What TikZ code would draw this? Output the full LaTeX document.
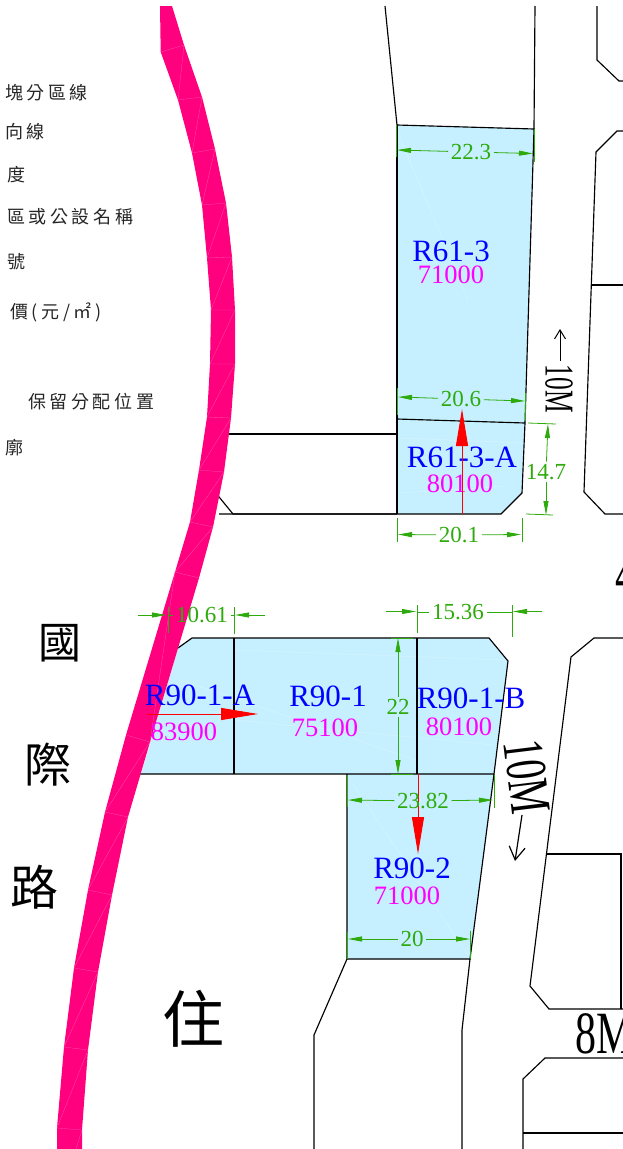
\documentclass[tikz,border=0pt]{standalone}
\usepackage{fontspec}
\setmainfont{Liberation Serif}
\newfontfamily\cjk{Noto Sans CJK TC}
\newfontfamily\cjkspaced[LetterSpace=20]{Noto Sans CJK TC}
\usetikzlibrary{arrows.meta}
\definecolor{parcel}{HTML}{C6F0FF}
\definecolor{hair}{HTML}{D8F6FF}
\definecolor{road}{HTML}{FF007F}
\definecolor{roadhair}{HTML}{FF4FA6}
\definecolor{dimgreen}{HTML}{2EAA0C}
\definecolor{pricecol}{HTML}{FF00FF}
\definecolor{namecol}{HTML}{0000FF}
\definecolor{arrowred}{HTML}{FF0000}
\newcommand{\fsz}[1]{\fontsize{#1}{#1}\selectfont}
\tikzset{
  x=1pt,y=-1pt,
  outline/.style={draw=black,line width=1.15pt,line join=miter},
  roadline/.style={draw=roadhair,line width=.3pt},
  tick/.style={draw=dimgreen,line width=.8pt},
  dimarrow/.style={draw=dimgreen,line width=.8pt,-{Triangle[length=14pt,width=5pt,fill=dimgreen]}},
  dimlabel/.style={text=dimgreen,font=\fsz{23},inner sep=2.5pt},
  parcelname/.style={text=namecol,font=\fsz{31},inner sep=0pt},
  price/.style={text=pricecol,font=\fsz{26.5},inner sep=0pt},
  redarrow/.style={draw=arrowred,line width=1pt,-{Triangle[length=37pt,width=12pt,fill=arrowred]}},
  legendtext/.style={anchor=west,font=\cjkspaced\fsz{18},inner sep=0pt,text=black!85},
  bigchar/.style={font=\cjk\fsz{#1},inner sep=0pt},
  blacktext/.style={font=\fsz{#1},inner sep=0pt},
}
\begin{document}
\begin{tikzpicture}
\useasboundingbox (0,0) rectangle (623,1149);
% parcels
\fill[parcel] (397,125)--(534,129)--(525,423)--(522,493)--(501,514)--(397,514)--cycle;
\fill[parcel] (192,638)--(489,638)--(508,661)--(494,774)--(141,774)--(178,648)--cycle;
\fill[parcel] (347,774)--(494,774)--(470,959)--(347,959)--cycle;
\draw[draw=hair,line width=.4pt] (398,133)--(468,300) (400,438)--(524,443) (400,493)--(508,486) (180,680)--(416,760) (235,650)--(505,660) (235,720)--(494,745) (350,780)--(468,955);
% road and block outlines
\draw[outline] (385,6)--(397,125)--(534,129)--(525,423)--(522,493)--(501,514)--(219,514);
\draw[outline] (535,6)--(534,129);
\draw[outline] (397,125)--(397,514);
\draw[outline] (397,419)--(525,423);
\draw[outline] (225,434)--(397,434);
\draw[outline] (215,492)--(233,514)--(397,514);
\draw[outline] (597,6)--(597,60)--(619,81)--(623,81);
\draw[outline] (623,131)--(617,131)--(596,152)--(584,492)--(605,514)--(623,514);
\draw[outline] (591,285)--(623,285);
\draw[outline] (178,648)--(192,638)--(489,638)--(508,661)--(494,774)--(130,774);
\draw[outline] (234,638)--(234,774);
\draw[outline] (417,638)--(417,774);
\draw[outline] (347,774)--(347,959)--(470,959)--(494,774);
\draw[outline] (347,959)--(314,1035)--(314,1149);
\draw[outline] (470,959)--(462,1030)--(462,1149);
\draw[outline] (623,638)--(594,638)--(571,657)--(530,986)--(549,1009)--(623,1009);
\draw[outline] (547,854)--(621,854)--(621,1009);
\draw[outline] (623,1058)--(545,1058)--(523,1079)--(523,1149);
\draw[outline] (523,1133)--(623,1133);
% pink road band
\fill[road] (160,6)--(160.7,52)--(178,100)--(192,153)--(202,205)--(207,258)--(211,310)--(210,364)--(207,417)--(199,470)--(190,522)--(175,572)--(126,735)--(105,812)--(88,890)--(74,968)--(64,1047)--(57,1128)--(57,1149)--(82,1149)--(82,1130)--(88,1050)--(98,972)--(112,895)--(128,817)--(150,742)--(199,578)--(213,527)--(224,472)--(231,418)--(235,364)--(235,310)--(232,257)--(226,203)--(215,149)--(202,97)--(184,45)--(172,6)--cycle;
\draw[roadline] (161,52)--(184,45) (178,100)--(202,97) (192,153)--(215,149) (202,205)--(226,203) (207,258)--(232,257) (211,310)--(235,310) (210,364)--(235,364) (207,417)--(231,418) (199,470)--(224,472) (190,522)--(213,527) (175,572)--(199,578) (126,735)--(150,742) (105,812)--(128,817) (88,890)--(112,895) (74,968)--(98,972) (64,1047)--(88,1050) (57,1128)--(82,1130);
\draw[roadline] (178,100)--(184,45) (192,153)--(202,97) (202,205)--(215,149) (207,258)--(226,203) (211,310)--(232,257) (210,364)--(235,310) (207,417)--(235,364) (199,470)--(231,418) (190,522)--(224,472) (175,572)--(213,527) (150,742)--(175,572) (105,812)--(150,742) (88,890)--(128,817) (74,968)--(112,895) (64,1047)--(98,972) (57,1128)--(88,1050) (76,1149)--(82,1130);
% legend
\node[legendtext] (leg1) at (5,93) {塊分區線};
\node[legendtext] (leg2) at (5,132) {向線};
\node[legendtext] (leg3) at (7,175) {度};
\node[legendtext] (leg4) at (7,217) {區或公設名稱};
\node[legendtext] (leg5) at (7,262) {號};
\node[legendtext] (leg6) at (10,312) {價(元/㎡)};
\node[legendtext] (leg7) at (28,402) {保留分配位置};
\node[legendtext] (leg8) at (5,448) {廓};
% large text
\node[bigchar=43] (c1) at (60,643) {國};
\node[bigchar=47] (c2) at (48,765) {際};
\node[bigchar=48] (c3) at (34,887) {路};
\node[bigchar=62] (c4) at (193,1019) {住};
\node[blacktext=60,xscale=.7,anchor=base west] (t8m) at (575,1053) {8M};
\node[blacktext=60,xscale=.7,anchor=base west] (t4) at (615,594) {4};
\node[blacktext=41,rotate=-90,xscale=.62] (t10a) at (559,389) {10M};
\node[blacktext=58,rotate=-83,xscale=.67] (t10b) at (527,777) {10M};
\coordinate (a10a) at (560,329);
\coordinate (a10b) at (515,861);
\draw[line width=1pt,-{Straight Barb[length=9pt,width=11pt]}] (560,361)--(a10a);
\draw[line width=1.2pt,-{Straight Barb[length=13pt,width=16pt]}] (522,815)--(a10b);
% parcel labels
\node[parcelname] (n1) at (451,251) {R61-3};
\node[price] (p1) at (451,275) {71000};
\node[parcelname] (n2) at (462,457) {R61-3-A};
\node[price] (p2) at (460,484) {80100};
\node[parcelname] (n3) at (200,695) {R90-1-A};
\node[price] (p3) at (184,732) {83900};
\node[parcelname] (n4) at (328,696) {R90-1};
\node[price] (p4) at (325,728) {75100};
\node[parcelname] (n5) at (471,698) {R90-1-B};
\node[price] (p5) at (459,727) {80100};
\node[parcelname] (n6) at (412,868) {R90-2};
\node[price] (p6) at (407,896) {71000};
% red arrows
\coordinate (ra1s) at (462,514); \coordinate (ra1e) at (462,409);
\coordinate (ra2s) at (147,714); \coordinate (ra2e) at (258,714);
\coordinate (ra3s) at (418,774); \coordinate (ra3e) at (418,854);
\draw[redarrow] (ra1s)--(ra1e);
\draw[redarrow] (ra2s)--(ra2e);
\draw[redarrow] (ra3s)--(ra3e);
% dimensions
\node[dimlabel] (d1) at (471,152) {22.3};
\draw[tick] (396,125)--(396,157) (534,129)--(534,162);
\draw[dimarrow] (d1)--(397,150);
\draw[dimarrow] (d1)--(533,153.5);
\node[dimlabel] (d2) at (461,399) {20.6};
\draw[tick] (397,388)--(397,415) (525,393)--(525,421);
\draw[dimarrow] (d2)--(398,397);
\draw[dimarrow] (d2)--(525,401);
\node[dimlabel] (d3) at (546,472) {14.7};
\draw[tick] (528,423)--(556,424) (526,514)--(553,515);
\draw[dimarrow] (d3)--(548,424);
\draw[dimarrow] (d3)--(546,515);
\node[dimlabel] (d4) at (459,535) {20.1};
\draw[tick] (397,518)--(397,542) (522,518)--(522,542);
\draw[dimarrow] (d4)--(398,534.5);
\draw[dimarrow] (d4)--(521,534.5);
\node[dimlabel] (d5) at (458,612) {15.36};
\draw[tick] (417,605)--(417,633) (512,605)--(512,637);
\draw[tick] (d5)--(417,612) (d5)--(512,612);
\draw[dimarrow] (386,611.5)--(416,611.5);
\draw[dimarrow] (542,611.5)--(513,611.5);
\node[dimlabel] (d6) at (202,615) {10.61};
\draw[tick] (168,607)--(168,633) (234,607)--(234,634);
\draw[tick] (d6)--(168,615) (d6)--(234,615);
\draw[dimarrow] (138,615)--(166,615);
\draw[dimarrow] (265,615)--(235,615);
\node[dimlabel] (d7) at (398,707) {22};
\draw[tick] (391,638)--(413,638) (391,774)--(413,774);
\draw[dimarrow] (d7)--(398,638);
\draw[dimarrow] (d7)--(398,774);
\node[dimlabel] (d8) at (423,801) {23.82};
\draw[tick] (347,775)--(347,807) (494,775)--(494,808);
\draw[dimarrow] (d8)--(348,800);
\draw[dimarrow] (d8)--(493,800);
\node[dimlabel] (d9) at (412,939) {20};
\draw[tick] (347,932)--(347,959) (470,931)--(470,959);
\draw[dimarrow] (d9)--(348,939);
\draw[dimarrow] (d9)--(470,939);
\end{tikzpicture}
\end{document}
